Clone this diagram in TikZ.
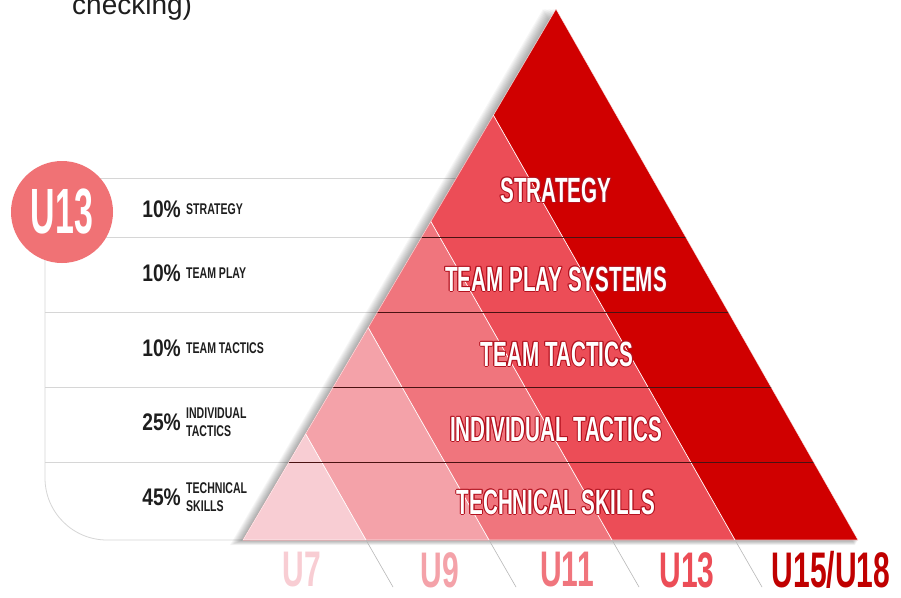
\documentclass[tikz,border=0pt]{standalone}
\usepackage{fontspec}
\setmainfont{Liberation Sans}
\newfontfamily\pyrfont[FakeStretch=0.59]{Liberation Sans Bold}
\newfontfamily\itemfont[FakeStretch=0.68]{Liberation Sans Bold}
\newfontfamily\pctfont[FakeStretch=0.8]{Liberation Sans Bold}
\newfontfamily\agefont[FakeStretch=0.6]{Liberation Sans Bold}
\newfontfamily\badgefont[FakeStretch=0.53]{Liberation Sans Bold}
\usetikzlibrary{calc}

\definecolor{ageA}{HTML}{F8CDD3}
\definecolor{ageB}{HTML}{F4A2A9}
\definecolor{ageC}{HTML}{F0757D}
\definecolor{ageD}{HTML}{EC4D57}
\definecolor{ageE}{HTML}{D00000}
\definecolor{ageEtext}{HTML}{C00000}
\definecolor{badge}{HTML}{F07275}
\definecolor{gridgray}{HTML}{D6D6D6}
\definecolor{markgray}{HTML}{B8B8B8}
\definecolor{rowdark}{HTML}{4A1212}
\definecolor{lbledge}{HTML}{B3121F}
\definecolor{inktext}{HTML}{1E1E1E}

\tikzstyle{gridline}=[draw=gridgray,line width=0.8pt]
\tikzstyle{rowline}=[draw=rowdark,line width=1pt]
\tikzstyle{seamline}=[draw=white,line width=0.7pt]
\tikzstyle{pyrtext}=[font=\pyrfont\fontsize{35}{35}\selectfont,text=white,inner sep=0pt]
\tikzstyle{pcttext}=[font=\pctfont\fontsize{24}{24}\selectfont,text=inktext,inner sep=0pt,anchor=east]
\tikzstyle{itemtext}=[font=\itemfont\fontsize{15.5}{18}\selectfont,text=inktext,inner sep=0pt,anchor=west,align=left]
\tikzstyle{agetext}=[font=\agefont\fontsize{50}{50}\selectfont,inner sep=0pt]

\begin{document}
\begin{tikzpicture}[x=1pt,y=-1pt]
                  % Fix the frame
                  \useasboundingbox (0,0) rectangle (901,597);
                  \fill[white] (0,0) rectangle (901,597);
                  % The cut-off line of text at the top
                  \node[anchor=base west,inner sep=0pt,font=\fontsize{28}{28}\selectfont,text=inktext] (cut) at (72,14) {checking)};
                  % Corners of the pyramid
                  \coordinate (A) at (243,540);
                  \coordinate (B) at (858,540);
                  \coordinate (C) at (556,9);
                  % Left panel frame and its rows
                  \draw[gridline,rounded corners=62pt] (45,230) -- (45,540) -- (250,540);
                  \foreach \y in {178,237,312,387,462}
                        \draw[gridline] (45,\y) -- (600,\y);
                  % Soft shadow on the left
                  \foreach \i in {1,...,10}
                        \fill[black,opacity=0.035] ($(A)+(-1.3*\i,0.5*\i)$) -- ($(B)+(-0.3*\i,0.5*\i)$) -- ($(C)+(-1.3*\i,0)$) -- cycle;
                  % Then the nested age triangles, biggest first
                  \foreach \k/\col in {5/ageE,4/ageD,3/ageC,2/ageB,1/ageA}
                        \fill[\col] (A) -- ($(A)!\k/5!(B)$) -- ($(A)!\k/5!(C)$) -- cycle;
                  \foreach \k in {1,...,4}
                  {
                        \coordinate (b\k) at ($(A)!\k/5!(B)$);
                        \draw[seamline] (b\k) -- ($(A)!\k/5!(C)$);
                  }
                  % Rows across the pyramid
                  \begin{scope}
                        \clip (A) -- (B) -- (C) -- cycle;
                        \foreach \y in {237,312,387,462}
                              \draw[rowline] (200,\y) -- (900,\y);
                  \end{scope}
                  \draw[white,line width=0.6pt,opacity=0.7] (A) -- (B) -- (C) -- cycle;
                  % Marks under the base
                  \foreach \k in {1,...,4}
                        \draw[markgray,line width=0.6pt] (b\k) -- ++(27,47);
                  % Pyramid labels with a red rim
                  \foreach \pos/\name/\la in {{(556,190)/strat/STRATEGY},
                  {(556,279)/play/TEAM PLAY SYSTEMS},
                  {(557,354)/tact/TEAM TACTICS},
                  {(556,429)/indiv/INDIVIDUAL TACTICS},
                  {(556,502)/tech/TECHNICAL SKILLS}}
                  {
                        \foreach \a in {0,45,...,315}
                              \node[pyrtext,text=lbledge,shift={(\a:1)}] at \pos {\la};
                        \node[pyrtext] (\name) at \pos {\la};
                  }
                  % Shares in the left panel
                  \foreach \y/\pct/\name/\la in {209/10\%/sstrat/STRATEGY,
                  273/10\%/splay/TEAM PLAY,
                  348/10\%/stact/TEAM TACTICS,
                  422/25\%/sindiv/INDIVIDUAL\\TACTICS,
                  497/45\%/stech/TECHNICAL\\SKILLS}
                  {
                        \node[pcttext] (p\name) at (181,\y) {\pct};
                        \node[itemtext] (\name) at (186,\y) {\la};
                  }
                  % Age groups under the pyramid
                  \foreach \pos/\col/\name/\la in {{(302,570)/ageA/age7/U7},
                  {(440,570)/ageB/age9/U9},
                  {(567,570)/ageC/age11/U11},
                  {(687,570)/ageD/age13/U13},
                  {(831,570)/ageEtext/age15/U15\slash U18}}
                        \node[agetext,text=\col] (\name) at \pos {\la};
                  % The badge
                  \node[circle,fill=badge,minimum size=102pt,inner sep=0pt,text=white,font=\badgefont\fontsize{64}{64}\selectfont] (badge) at (62,212) {U13};
            \end{tikzpicture}
\end{document}
